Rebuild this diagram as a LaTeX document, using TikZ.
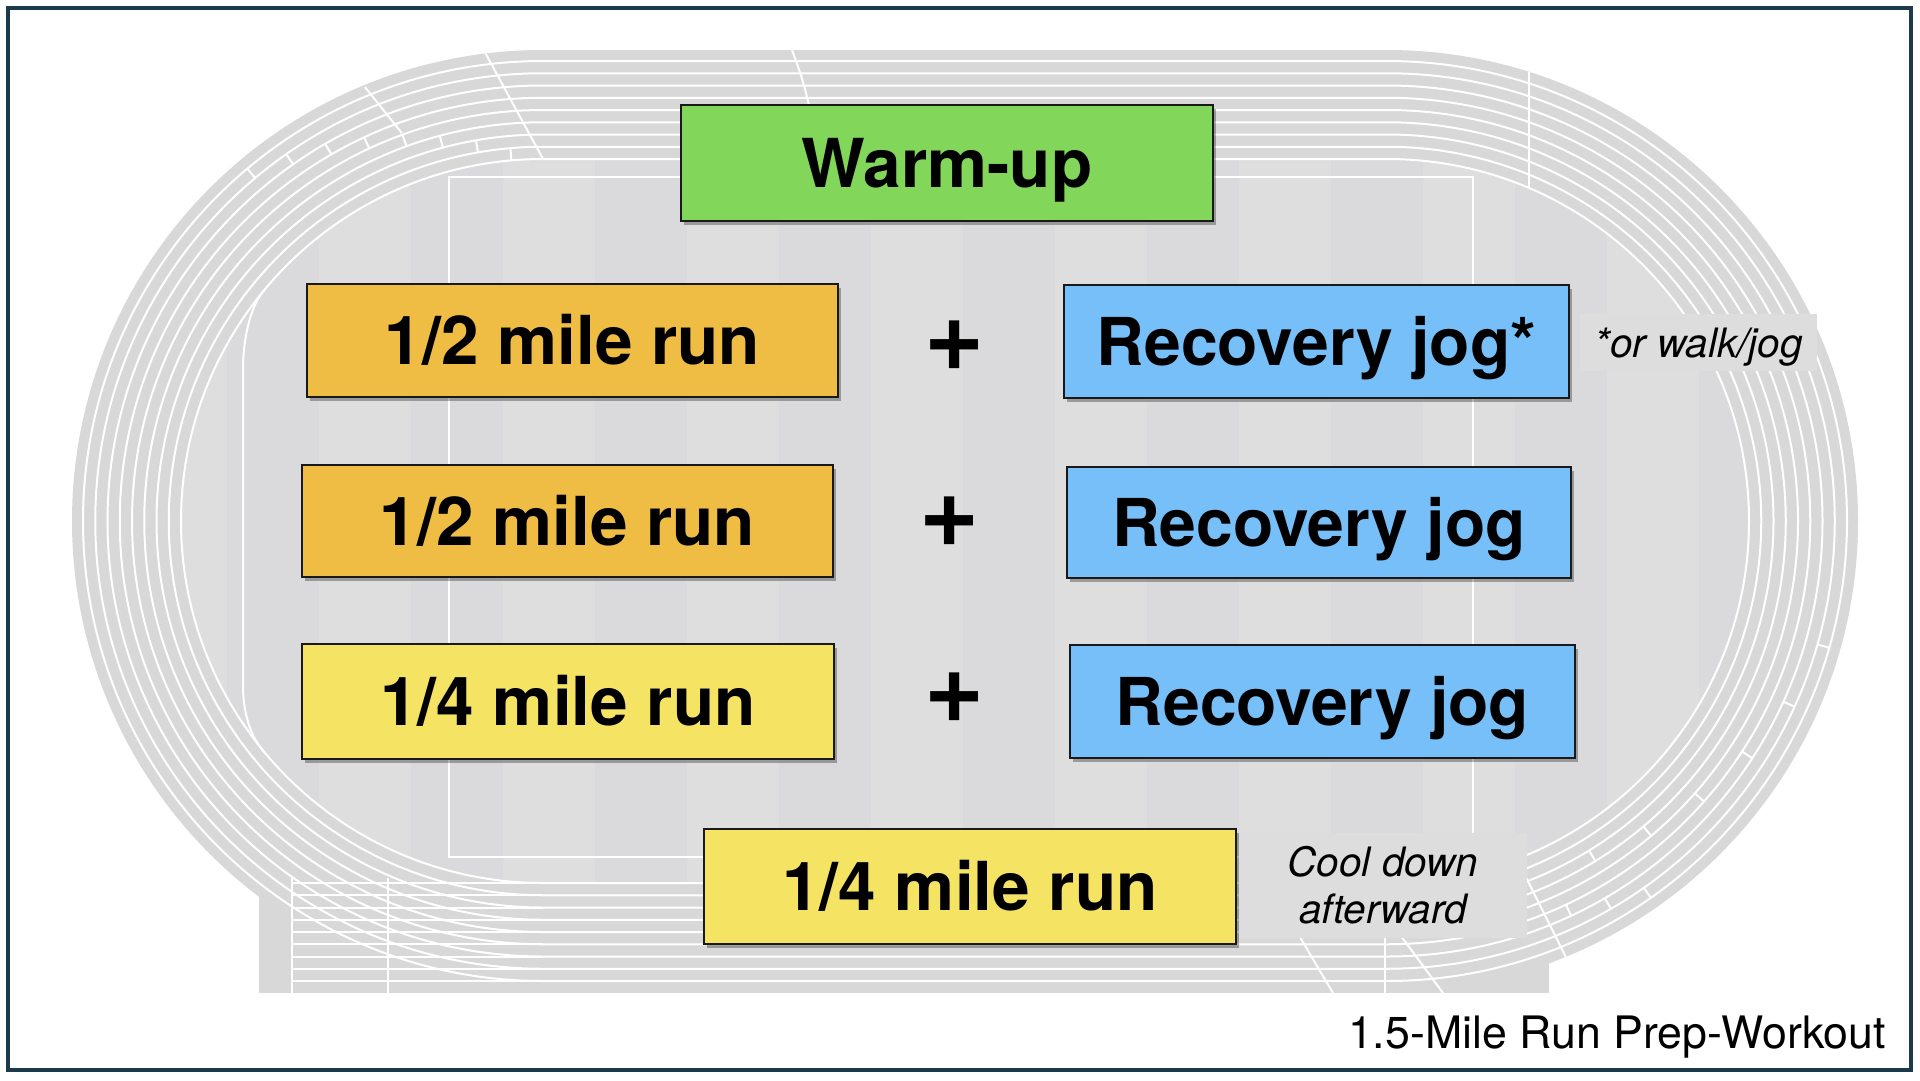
\documentclass[tikz,border=0pt]{standalone}
\usepackage{fontspec}
\setmainfont{TeX Gyre Heros}
\usetikzlibrary{shadows,calc}
\definecolor{framecol}{RGB}{28,58,78}
\definecolor{trackgray}{RGB}{216,216,217}
\definecolor{fielddark}{RGB}{218,218,220}
\definecolor{fieldlight}{RGB}{222,222,223}
\definecolor{notegray}{RGB}{221,221,222}
\definecolor{warmgreen}{RGB}{130,214,90}
\definecolor{halforange}{RGB}{239,189,68}
\definecolor{quartyellow}{RGB}{245,227,100}
\definecolor{jogblue}{RGB}{118,191,248}
\newcommand\trackpath[1]{(543,{521+#1}) arc[start angle=90,end angle=270,radius=#1] -- (1387,{521-#1}) arc[start angle=-90,end angle=90,radius=#1] -- cycle}
\tikzset{
  lane/.style={draw=white, line width=2pt},
  box/.style={draw=black!90, line width=2.2pt, inner sep=0pt, text height=48pt, text depth=0pt,
    drop shadow={shadow xshift=2.5pt, shadow yshift=-3.5pt, opacity=0.3, fill=black}},
  bigtext/.style={font=\bfseries\fontsize{67.5}{80}\selectfont},
  jogtext/.style={font=\bfseries\fontsize{66}{78}\selectfont},
  plus/.style={font=\bfseries\fontsize{103}{110}\selectfont, inner sep=0pt},
  notebox/.style={fill=notegray, inner sep=0pt, font=\itshape\fontsize{40.5}{47}\selectfont, align=center},
}
\begin{document}
\begin{tikzpicture}[x=1pt,y=-1pt]
\useasboundingbox (0,0) rectangle (1920,1080);
\fill[white] (0,0) rectangle (1920,1080);
% ---------------- track ----------------
\begin{scope}
  \clip (0,0) rectangle (1920,993);
  \fill[trackgray] \trackpath{471};
  \fill[trackgray] (259,860) rectangle (1549,993);
  % infield stripes
  \begin{scope}
    \clip \trackpath{362};
    \fill[fielddark] (0,0) rectangle (1920,1080);
    \foreach \xa in {135,319,503,687,871,1055,1239,1423,1607,1791}
      \fill[fieldlight] (\xa,0) rectangle ({\xa+92},1080);
  \end{scope}
  % lane lines
  \foreach \r in {362,374.25,386.5,398.75,411,423.25,435.5,447.75,460} {
    \draw[lane] \trackpath{\r};
    \draw[lane] (292,{521+\r}) -- (543,{521+\r});
  }
  \draw[lane] (292,878) -- (292,993);
  \draw[lane] (388,878) -- (388,993);
  % field markings
  \draw[lane] (449,177) rectangle (1473,857);
  \draw[lane] ($(543,521)+(220:362)$) .. controls (250,305) and (243,340) .. (243,369)
     -- (243,684) .. controls (243,713) and (250,737) .. ($(543,521)+(140:362)$);
  % start lines and stagger marks
  \draw[lane] ($(543,521)+(263:471)$) -- ($(543,521)+(270:362)$);
  \draw[lane] ($(543,521)+(247.7:469)$) -- ($(543,521)+(250:413)$);
  \foreach \i in {0,...,7}
    \draw[lane] ($(543,521)+({230+5*\i}:{460-12.25*\i})$) -- ($(543,521)+({230+5*\i}:{447.75-12.25*\i})$);
  \draw[lane] (1529,72) -- (1529,188);
  \draw[lane] (792,50) .. controls (803,80) .. (815,130);
  \foreach \i in {0,...,5}
    \draw[lane] ($(1387,521)+({16+8.5*\i}:{460-12.25*\i})$) -- ($(1387,521)+({16+8.5*\i}:{447.75-12.25*\i})$);
  \foreach \i in {0,...,2}
    \draw[lane] ($(1387,521)+({55+5*\i}:{460-12.25*\i})$) -- ($(1387,521)+({55+5*\i}:{447.75-12.25*\i})$);
  \draw[lane] ($(1387,521)+(69:362)$) -- ($(1387,521)+(67.7:471)$);
  \draw[lane] (1268,883) -- (1333,993);
  \draw[lane] (1385,883) -- (1385,993);
  \draw[lane] (1362,883) -- (1443,993);
\end{scope}
% ---------------- frame ----------------
\draw[framecol, line width=4pt] (8,8) rectangle (1911,1070);
% ---------------- boxes ----------------
\node[box, bigtext, fill=warmgreen, minimum width=532pt, minimum height=116pt] (warm) at (947,163) {Warm-up};
\node[box, bigtext, fill=halforange, minimum width=531pt, minimum height=113pt] (half1) at (572.5,340.5) {1/2 mile run};
\node[box, jogtext, fill=jogblue, minimum width=505pt, minimum height=113pt] (jog1) at (1316.5,341.5) {Recovery jog*};
\node[box, bigtext, fill=halforange, minimum width=531pt, minimum height=112pt] (half2) at (567.5,521) {1/2 mile run};
\node[box, jogtext, fill=jogblue, minimum width=504pt, minimum height=111pt] (jog2) at (1319,522.5) {Recovery jog};
\node[box, bigtext, fill=quartyellow, minimum width=532pt, minimum height=115pt] (quart1) at (568,701.5) {1/4 mile run};
\node[box, jogtext, fill=jogblue, minimum width=505pt, minimum height=113pt] (jog3) at (1322.5,701.5) {Recovery jog};
\node[box, bigtext, fill=quartyellow, minimum width=532pt, minimum height=115pt] (quart2) at (970,886.5) {1/4 mile run};
\node[plus] (plus1) at (955,346) {+};
\node[plus] (plus2) at (950,521.5) {+};
\node[plus] (plus3) at (955,698) {+};
% ---------------- notes ----------------
\node[notebox, text height=29pt, text depth=0pt, minimum width=237pt, minimum height=57pt] (walk) at (1698.5,342.5) {*or walk/jog};
\node[notebox, minimum width=288pt, minimum height=105pt] (cool) at (1383,885.5) {Cool down\\afterward};
\node[anchor=base east, inner sep=0pt, font=\fontsize{44.7}{50}\selectfont] (title) at (1886,1048) {1.5-Mile Run Prep-Workout};
\end{tikzpicture}
\end{document}
